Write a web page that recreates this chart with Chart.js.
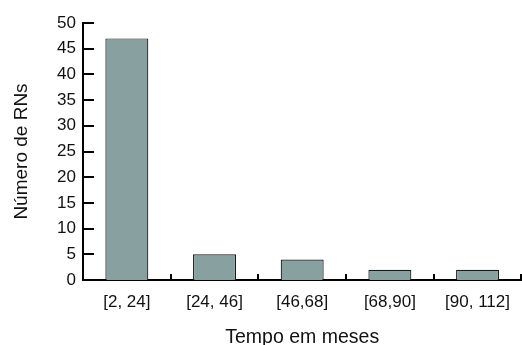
<!DOCTYPE html>
<html>
<head>
<meta charset="utf-8">
<script src="https://cdn.jsdelivr.net/npm/chart.js@4"></script>
<style>
  html, body { margin: 0; padding: 0; background: #fff; }
  #wrap { width: 522px; height: 345px; }
</style>
</head>
<body>
<div id="wrap"><canvas id="chart" width="522" height="345"></canvas></div>
<script>
// --- DATA ---
const categories = ['[2, 24]', '[24, 46]', '[46,68]', '[68,90]', '[90, 112]'];
const counts = [47, 5, 4, 2, 2];
const yMax = 50;
const yStep = 5;

const xTitle = 'Tempo em meses';
const yTitle = 'Número de RNs';

// inward tick marks (y ticks point right, x ticks between categories point up)
const innerTicks = {
    id: 'innerTicks',
    afterDraw(chart) {
        const ctx = chart.ctx;
        const x = chart.scales.x;
        const y = chart.scales.y;
        const area = chart.chartArea;
        ctx.save();
        ctx.strokeStyle = '#000';
        ctx.lineWidth = 2;
        ctx.beginPath();
        y.ticks.forEach((t, i) => {
            const py = Math.round(y.getPixelForTick(i));
            ctx.moveTo(area.left, py);
            ctx.lineTo(area.left + 11, py);
        });
        for (let i = 0; i < categories.length; i++) {
            const px = Math.round((x.getPixelForValue(i) + x.getPixelForValue(i + 1)) / 2);
            ctx.moveTo(px, area.bottom);
            ctx.lineTo(px, area.bottom - 6);
        }
        ctx.stroke();
        ctx.restore();
    }
};

const font = 'Liberation Sans, Arial, sans-serif';

new Chart(document.getElementById('chart').getContext('2d'), {
    type: 'bar',
    data: {
        labels: categories,
        datasets: [{
            data: counts,
            backgroundColor: '#88a0a0',
            borderColor: '#1a1a1a',
            borderWidth: 1.2,
            categoryPercentage: 1,
            barPercentage: 0.49
        }]
    },
    options: {
        responsive: false,
        animation: false,
        layout: { padding: { top: 23, left: 0, right: 0, bottom: 0 } },
        plugins: { legend: { display: false }, tooltip: { enabled: false } },
        scales: {
            x: {
                grid: { display: false, drawTicks: false },
                border: { color: '#000', width: 2 },
                ticks: { color: '#111', font: { family: font, size: 17 }, padding: 12, maxRotation: 0 },
                title: { display: true, text: xTitle, color: '#111', font: { family: font, size: 19.5 }, padding: { top: 0, bottom: -4 } },
                afterFit: s => { s.height = 65; }
            },
            y: {
                min: 0,
                max: yMax,
                grid: { display: false, drawTicks: false },
                border: { color: '#000', width: 2 },
                ticks: { stepSize: yStep, color: '#111', font: { family: font, size: 17 }, padding: 7 },
                title: { display: true, text: yTitle, color: '#111', font: { family: font, size: 19 }, padding: { top: 10, bottom: 0 } },
                afterFit: s => { s.width = 83; }
            }
        }
    },
    plugins: [innerTicks]
});
</script>
</body>
</html>
